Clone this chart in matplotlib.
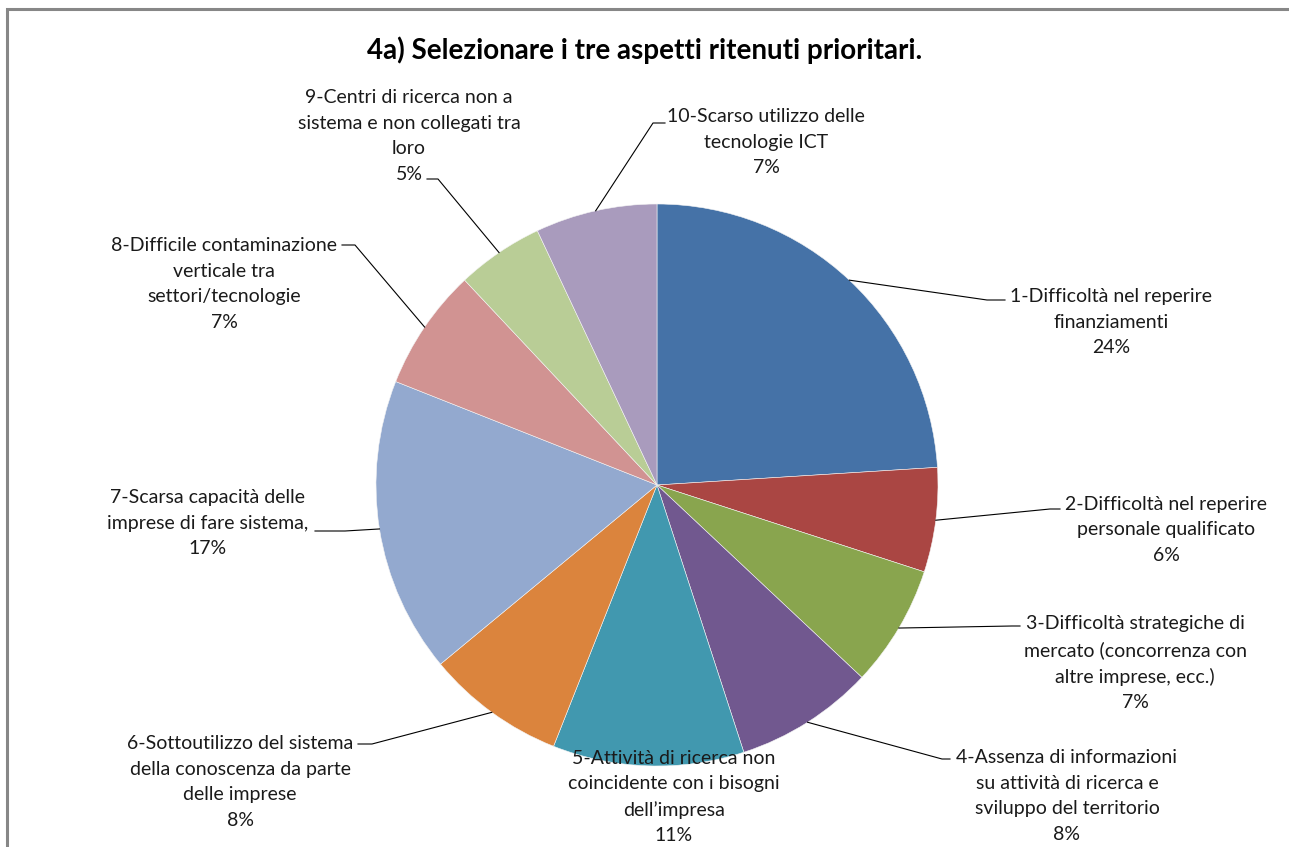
import matplotlib
matplotlib.use("Agg")
import matplotlib.pyplot as plt
import numpy as np
from matplotlib.lines import Line2D
from matplotlib.patches import Rectangle

title = "4a) Selezionare i tre aspetti ritenuti prioritari."
labels = [
    "1-Difficoltà nel reperire\nfinanziamenti",
    "2-Difficoltà nel reperire\npersonale qualificato",
    "3-Difficoltà strategiche di\nmercato (concorrenza con\naltre imprese, ecc.)",
    "4-Assenza di informazioni\nsu attività di ricerca e\nsviluppo del territorio",
    "5-Attività di ricerca non\ncoincidente con i bisogni\ndell\u2019impresa",
    "6-Sottoutilizzo del sistema\ndella conoscenza da parte\ndelle imprese",
    "7-Scarsa capacità delle\nimprese di fare sistema,",
    "8-Difficile contaminazione\nverticale tra\nsettori/tecnologie",
    "9-Centri di ricerca non a\nsistema e non collegati tra\nloro",
    "10-Scarso utilizzo delle\ntecnologie ICT",
]
values = [24, 6, 7, 8, 11, 8, 17, 7, 5, 7]
colors = ["#4572A7", "#AA4643", "#89A54E", "#71588F", "#4198AF",
          "#DB843D", "#93A9CF", "#D19392", "#B9CD96", "#A99BBD"]

W, H = 1289, 847
CX, CY, R = 657, 485, 281

# layout: text center (px, top-left origin), leader elbow and tail points
text_pos = [(1111, 322), (1166, 530), (1135, 663), (1067, 796), (674, 797),
            (240, 782), (208, 523), (224, 284), (409, 136), (766, 142)]
elbow = [(987, 300), (1050, 509), (1012, 626), (942, 759), None,
         (372, 744), (345, 531), (355, 245), (438, 179), (653, 123)]
tail = [(1005, 300), (1060, 509), (1020, 626), (950, 759), None,
        (358, 744), (315, 531), (342, 245), (427, 179), (665, 123)]

plt.rcParams['font.family'] = ["Lato", 'DejaVu Sans']

fig = plt.figure(figsize=(W / 100, H / 100), dpi=100)
fig.patch.set_facecolor("white")

ax = fig.add_axes([(CX - R) / W, (H - CY - R) / H, 2 * R / W, 2 * R / H])
ax.axis("off")

wedges, _ = ax.pie(values, colors=colors, startangle=90, counterclock=False,
                   radius=1, center=(0, 0),
                   wedgeprops=dict(linewidth=0.4, edgecolor="#f4f4f4"))
ax.set_xlim(-1, 1)
ax.set_ylim(-1, 1)
ax.set_aspect("equal")


def px(p):
    return ((p[0] - CX) / R, (CY - p[1]) / R)


for i, w in enumerate(wedges):
    ang = np.deg2rad((w.theta1 + w.theta2) / 2)
    start = (np.cos(ang), np.sin(ang))
    tx, ty = px(text_pos[i])
    ax.text(tx, ty, f"{labels[i]}\n{values[i]}%", ha="center", va="center",
            fontsize=14, color="#1a1a1a", linespacing=1.6, clip_on=False)
    if elbow[i] is not None:
        ex, ey = px(elbow[i])
        hx, hy = px(tail[i])
        ax.add_line(Line2D([start[0], ex, hx], [start[1], ey, hy],
                           color="black", lw=0.8, clip_on=False))

fig.text(645 / W, 1 - 50 / H, title, ha="center", va="center",
         fontsize=20, fontweight="bold", color="black")

fig.add_artist(Rectangle((7 / W, -0.05), 1.1, 1 - 9 / H + 0.05,
                         transform=fig.transFigure, fill=False,
                         edgecolor="#878787", lw=2.2, clip_on=False))

fig.savefig("out.png", dpi=100, facecolor="white")
